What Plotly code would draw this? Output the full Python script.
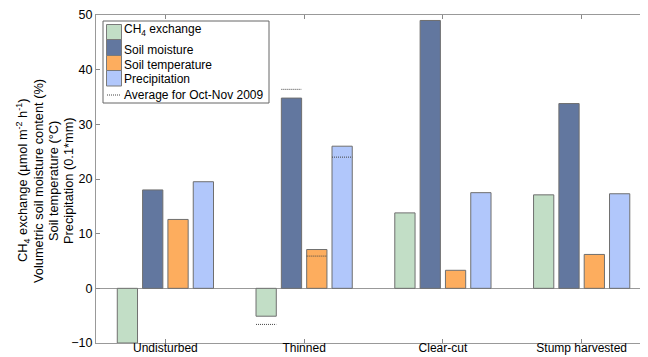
import plotly.graph_objects as go

categories = ["Undisturbed", "Thinned", "Clear-cut", "Stump harvested"]
ch4_exchange = [-10.0, -5.1, 13.8, 17.1]
soil_moisture = [18.0, 34.8, 49.0, 33.8]
soil_temperature = [12.6, 7.1, 3.3, 6.2]
precipitation = [19.5, 26.0, 17.5, 17.3]

# Averages for Oct-Nov 2009 (only shown for Thinned)
avg_ch4 = [None, -6.6, None, None]
avg_moisture = [None, 36.4, None, None]
avg_temperature = [None, 5.9, None, None]
avg_precipitation = [None, 24.0, None, None]

series_names = ["CH<sub>4</sub> exchange", "Soil moisture", "Soil temperature", "Precipitation"]
avg_name = "Average for Oct-Nov 2009"
y_title_lines = [
    "CH<sub>4</sub> exchange (µmol m<sup>-2</sup> h<sup>-1</sup>)",
    "Volumetric soil moisture content (%)",
    "Soil temperature (°C)",
    "Precipitation (0.1*mm)",
]
series_values = [ch4_exchange, soil_moisture, soil_temperature, precipitation]
series_avgs = [avg_ch4, avg_moisture, avg_temperature, avg_precipitation]
colors = ["#c2dec6", "#62779f", "#fdad5e", "#b1c7fb"]

# the page body adds an 8px offset, so the figure is 8px smaller
OFF = 8
W, H = 648 - OFF, 357 - OFF
ML, MR, MT, MB = 96 - OFF, 0, 15 - OFF, 14
PW, PH = W - ML - MR, H - MT - MB

BARGAP = 0.27
GROUPGAP = 0.2
n = len(series_values)
xpos = list(range(1, len(categories) + 1))

fig = go.Figure()
for name, vals, col in zip(series_names, series_values, colors):
    fig.add_trace(go.Bar(
        x=xpos, y=vals, name=name, showlegend=False,
        marker=dict(color=col, line=dict(color="#6f6f6f", width=1)),
    ))

# dotted average lines spanning each bar's width
slot = (1 - BARGAP) / n
bw = slot * (1 - GROUPGAP)
lx, ly = [], []
for i, avgs in enumerate(series_avgs):
    for c, a in zip(xpos, avgs):
        if a is None:
            continue
        center = c - (1 - BARGAP) / 2 + slot * (i + 0.5)
        lx += [center - bw / 2, center + bw / 2, None]
        ly += [a, a, None]
DOT = dict(color="#444444", width=1, dash="1px,1px")
fig.add_trace(go.Scatter(x=lx, y=ly, mode="lines", name=avg_name,
                         showlegend=False, line=DOT))

# custom legend (screen-pixel layout converted to paper coords)
def px(x):
    return (x - OFF - ML) / PW

def py(y):
    return (H - MB - (y - OFF)) / PH

shapes = [dict(type="rect", xref="paper", yref="paper",
               x0=px(103), x1=px(269), y0=py(103), y1=py(21),
               line=dict(color="#666666", width=1), fillcolor="white", layer="above")]
annotations = []
sw_top = [24.5, 39.5, 55.5, 70.5]
sw_bot = [39.5, 55.5, 70.5, 86.0]
txt_y = [30, 49.5, 65, 79]
for name, col, t, b, ty in zip(series_names, colors, sw_top, sw_bot, txt_y):
    shapes.append(dict(type="rect", xref="paper", yref="paper",
                       x0=px(106.5), x1=px(121.5), y0=py(b), y1=py(t),
                       line=dict(color="#7a7a7a", width=1), fillcolor=col, layer="above"))
    annotations.append(dict(xref="paper", yref="paper", x=px(122), y=py(ty),
                            text=name, showarrow=False, xanchor="left", yanchor="middle",
                            font=dict(size=12)))
shapes.append(dict(type="line", xref="paper", yref="paper",
                   x0=px(107), x1=px(121), y0=py(95), y1=py(95),
                   line=DOT, layer="above"))
annotations.append(dict(xref="paper", yref="paper", x=px(122), y=py(95),
                        text=avg_name, showarrow=False, xanchor="left", yanchor="middle",
                        font=dict(size=12)))

# multi-line y-axis title, one rotated line each
for line_text, xc in zip(y_title_lines, [23, 38, 53, 68]):
    annotations.append(dict(xref="paper", yref="paper", x=px(xc), y=py(181),
                            text=line_text, showarrow=False, textangle=-90,
                            xanchor="center", yanchor="middle", font=dict(size=12.8)))

fig.update_layout(
    width=W, height=H,
    margin=dict(l=ML, r=MR, t=MT, b=MB),
    paper_bgcolor="white", plot_bgcolor="white",
    barmode="group", bargap=BARGAP, bargroupgap=GROUPGAP,
    font=dict(family="Liberation Sans, Arial, sans-serif", size=12, color="black"),
    showlegend=False,
    shapes=shapes, annotations=annotations,
    xaxis=dict(
        range=[0.5, 4.478], tickmode="array", tickvals=xpos, ticktext=categories,
        ticks="inside", ticklen=4, tickcolor="#888888",
        showline=True, linecolor="#999999", mirror="ticks",
        showgrid=False, zeroline=False, tickfont=dict(size=12),
        automargin=False, ticklabelstandoff=-6,
    ),
    yaxis=dict(
        range=[-10, 50], tickvals=[-10, 0, 10, 20, 30, 40, 50],
        ticks="inside", ticklen=4, tickcolor="#888888",
        showline=True, linecolor="#999999", mirror="ticks",
        showgrid=False, zeroline=True, zerolinecolor="#999999", zerolinewidth=1,
        tickfont=dict(size=12.5), automargin=False,
    ),
)

fig.write_html("out.html")
